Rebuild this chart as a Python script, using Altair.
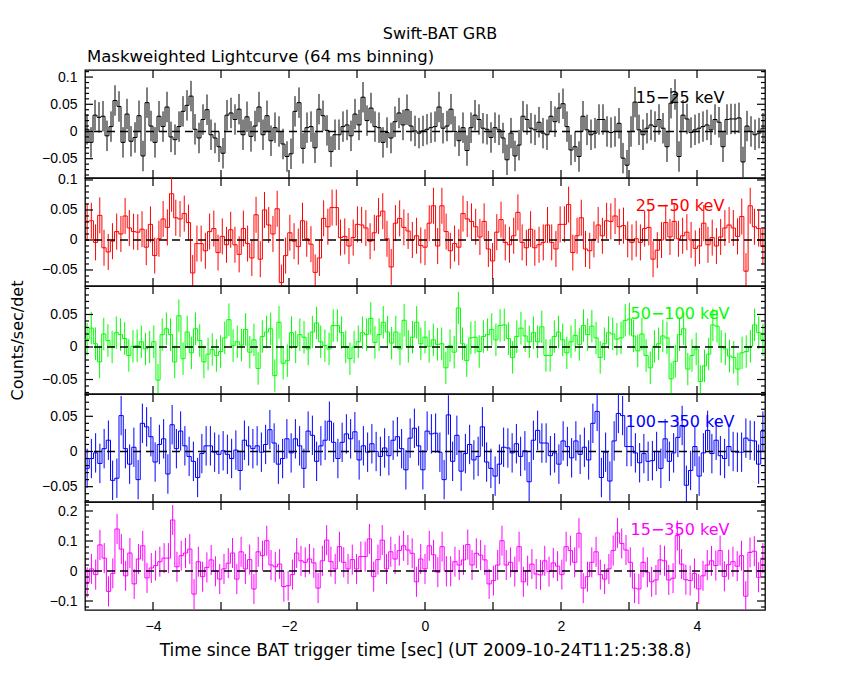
import altair as alt
import numpy as np
import pandas as pd

FONT = "Liberation Sans"
TFONT = "DejaVu Sans"
W, H = 680, 108

band_labels = ["15−25 keV", "25−50 keV", "50−100 keV", "100−350 keV", "15−350 keV"]
band_colors = ["#000000", "#ff0000", "#00ff00", "#0000ff", "#ff00ff"]

# Mask-weighted rates (counts/sec/det), 64 ms bins from -5 s to +5 s
rate_15_25 = [
    0.004, -0.02, 0.03, 0.026, 0.028, -0.008, 0.009, 0.057, 0.046, -0.02,
    0.032, -0.018, -0.011, 0.029, -0.045, 0.053, 0.01, -0.02, 0.028, 0.009,
    0.045, -0.01, -0.015, 0.009, 0.037, 0.048, 0.065, 0.004, -0.012, 0.022,
    0.04, -0.006, -0.012, -0.028, -0.04, 0.03, 0.034, 0.022, 0.041, -0.006,
    0.027, -0.009, 0.01, 0.045, -0.006, 0.029, -0.017, 0.007, 0.0, -0.023,
    -0.046, -0.041, 0.037, 0.053, -0.031, 0.007, 0.009, -0.03, 0.041, 0.029,
    0.002, -0.037, -0.006, -0.006, 0.009, 0.012, -0.008, 0.032, 0.012, 0.063,
    0.02, 0.043, 0.009, 0.007, -0.02, -0.002,
    -0.012, 0.018, 0.034, 0.012, 0.04, 0.01, 0.001, -0.003,
    0.001, 0.004, 0.007, 0.009, 0.045, 0.006, 0.01, 0.041, 0.0, -0.017,
    0.007, -0.035, 0.007, 0.03, 0.022, 0.006, 0.004, -0.011, 0.007, 0.003,
    -0.012, -0.052, -0.003, -0.045, -0.025, 0.028, 0.022, 0.006, 0.003, 0.017,
    -0.003, -0.006, 0.028, 0.018, 0.043, 0.051, 0.009, -0.034, -0.028, -0.046,
    0.028, 0.003, -0.006, -0.003, 0.022, 0.022, 0.0, -0.002, 0.0, 0.015,
    -0.049, -0.062, 0.0, 0.054, 0.003, -0.006, 0.006, 0.012, 0.009, 0.022,
    0.006, -0.028, 0.052, 0.068, -0.046, 0.03, 0.023, -0.002, 0.003, 0.006,
    0.009, 0.012, 0.003, 0.022, 0.017, -0.028, 0.022, 0.023, 0.023, 0.025,
    -0.056, 0.01, 0.0, -0.006, -0.003, 0.006,
]
rate_25_50 = [
    0.031, 0.032, -0.004, 0.041, -0.013, -0.02, -0.002, 0.014, 0.01, 0.04,
    0.02, 0.014, 0.013, 0.018, -0.012, 0.026, -0.026, 0.002, 0.035, 0.021,
    0.077, 0.037, 0.035, 0.044, 0.029, -0.055, -0.006, -0.006, -0.018, 0.014,
    0.019, -0.021, 0.006, -0.008, 0.017, -0.008, -0.024, 0.019, -0.006, -0.03,
    0.042, -0.032, 0.05, 0.025, 0.01, 0.052, -0.071, -0.026, 0.012, -0.002,
    -0.011, 0.032, 0.002, -0.007, -0.054, -0.03, 0.036, 0.022, 0.054, 0.054,
    0.004, 0.006, -0.01, 0.004, 0.026, 0.025, 0.02, -0.002, 0.012, 0.04,
    0.048, 0.002, -0.045, 0.028, 0.036, 0.021, 0.015, 0.0, 0.007, -0.009, -0.012,
    0.028, 0.057, -0.01, 0.057, 0.014, -0.018, -0.006,
    -0.012, 0.044, 0.035, 0.031, 0.022, 0.005, 0.031, -0.015, -0.035, 0.013,
    0.034, -0.004, -0.008, 0.007, 0.046, -0.004, -0.013, 0.018, -0.013, -0.008,
    -0.004, 0.025, -0.004, -0.015, 0.026, 0.026, 0.059, -0.021, 0.007, 0.037,
    -0.015, -0.018, 0.001, 0.025, 0.007, 0.032, 0.031, 0.04, 0.022, 0.024,
    0.001, -0.004, 0.002, -0.004, 0.019, 0.021, -0.032, -0.017, 0.0, 0.029,
    0.005, 0.031, 0.002, 0.007, 0.013, 0.0, -0.014, -0.01, 0.028, -0.008,
    0.004, -0.01, 0.005, 0.02, 0.025, 0.02, 0.006, 0.039, -0.052, 0.057,
    0.022, 0.019, -0.011,
]
rate_50_100 = [
    0.012, 0.029, 0.005, -0.023, 0.02, 0.01, 0.0, 0.022, 0.019, 0.013,
    -0.013, 0.001, 0.002, 0.008, -0.003, 0.0, 0.008, -0.051, 0.019, 0.028,
    0.019, -0.023, 0.048, -0.018, 0.023, -0.009, 0.028, 0.01, -0.023, -0.011,
    -0.004, -0.013, -0.007, 0.014, 0.042, 0.002, 0.008, 0.003, 0.027, -0.008,
    0.011, -0.033, 0.016, 0.023, 0.028, -0.044, 0.038, -0.025, -0.021, 0.022,
    0.0, 0.019, 0.015, -0.003, 0.023, 0.037, 0.008, 0.002, -0.003, 0.033,
    0.033, 0.022, 0.0, -0.018, 0.0, 0.008, 0.022, 0.019, 0.044, 0.007,
    0.019, 0.038, 0.023, 0.006, 0.023, -0.003, 0.041, 0.001, 0.015, 0.038,
    0.005, 0.015,
    0.001, 0.011, 0.004, 0.005, -0.032, 0.002, -0.008, 0.06,
    0.005, -0.021, 0.014, 0.015, -0.007, 0.016, 0.019, 0.027, 0.011, 0.033,
    0.034, 0.013, -0.016, 0.016, 0.029, 0.017, 0.008, 0.022, 0.008, 0.031,
    -0.013, -0.013, 0.016, 0.023, 0.011, -0.009, 0.008, 0.018, 0.004, 0.033,
    0.019, 0.032, 0.014, -0.016, 0.005, 0.022, 0.02, 0.012, 0.014, 0.041,
    0.043, 0.017, -0.006, 0.02, -0.013, -0.032, 0.001, 0.005, 0.017, 0.014,
    -0.049, -0.022, 0.019, 0.028, -0.034, -0.013, -0.003, -0.053, -0.029, -0.011,
    0.034, 0.032, 0.001, -0.003, -0.014, -0.016, -0.034, -0.009, -0.007, 0.001,
    0.034, 0.022, 0.011,
]
rate_100_350 = [
    -0.024, -0.01, -0.002, -0.017, 0.004, 0.016, -0.041, -0.038, 0.051, 0.004,
    -0.018, 0.006, -0.04, 0.04, 0.035, 0.021, -0.015, 0.01, 0.018, -0.032,
    0.038, 0.004, 0.029, 0.008, -0.007, -0.014, -0.037, -0.003, 0.008, 0.008,
    -0.001, -0.004, 0.001, -0.004, -0.01, 0.002, -0.027, 0.016, 0.008, 0.004,
    0.008, -0.001, 0.01, 0.031, 0.012, -0.018, -0.01, 0.018, -0.002, 0.018,
    0.008, -0.024, 0.029, 0.023, -0.014, 0.008, 0.016, 0.043, 0.013, -0.01,
    0.013, 0.025, 0.018, 0.028, -0.012, 0.008, -0.001, 0.011, 0.0, -0.007,
    0.005, -0.006, 0.016, 0.021, 0.004, -0.026, 0.019, 0.033, 0.008, -0.026,
    0.029,
    0.025, 0.026, -0.001, -0.04, 0.052, -0.014, 0.023, -0.028,
    -0.003, 0.01, -0.012, -0.007, 0.035, -0.015, -0.024, -0.035, -0.018, 0.006,
    0.005, -0.002, 0.011, -0.007, 0.001, -0.043, 0.016, 0.03, 0.012, 0.012,
    -0.006, -0.002, -0.018, 0.015, 0.007, -0.009, 0.015, -0.004, 0.006, -0.012,
    0.04, 0.057, -0.037, -0.001, -0.042, 0.015, 0.054, 0.051, 0.007, 0.007,
    -0.002, -0.016, -0.003, -0.014, -0.013, 0.0, -0.024, 0.018, -0.014, -0.002,
    0.02, 0.037, -0.048, -0.027, 0.007, -0.035, -0.002, 0.03, -0.003, 0.016,
    -0.006, -0.01, 0.007, 0.0, -0.001, -0.001, 0.019, 0.016, 0.015, -0.018,
    0.029,
]
rate_15_350 = [
    -0.038, 0.007, -0.012, 0.087, 0.043, -0.068, -0.008, 0.14, 0.073, -0.016,
    0.06, -0.043, 0.04, 0.084, -0.023, 0.01, 0.018, 0.031, 0.043, 0.043,
    0.17, 0.014, 0.051, 0.06, 0.073, -0.077, 0.031, -0.019, 0.012, 0.037,
    -0.001, -0.027, 0.007, 0.026, 0.06, -0.027, 0.064, 0.007, 0.038, -0.06,
    0.064, 0.051, 0.101, 0.02, 0.014, 0.023, -0.052, -0.049, -0.012, 0.06,
    0.034, 0.029, 0.04, 0.027, -0.057, 0.034, 0.103, 0.031, 0.007, 0.081,
    0.029, 0.007, 0.038, 0.007, 0.048, 0.048, 0.107, -0.019, 0.038, 0.103,
    0.007, 0.064, 0.04, 0.068, 0.084, 0.07, 0.059, -0.036, 0.04, 0.007,
    0.084, 0.054, -0.004, 0.081, -0.001, -0.001, 0.031, 0.02, 0.037,
    0.088, 0.02, 0.059, 0.053, 0.037, -0.043, -0.032, 0.02, 0.101, 0.02,
    0.029, -0.002, 0.081, -0.036, 0.001, 0.023, -0.01, -0.013, 0.034, -0.002,
    0.027, 0.016, -0.012, 0.081, 0.068, 0.029, 0.126, -0.057, -0.019, 0.029,
    0.064, -0.012, -0.027, 0.007, 0.068, 0.127, 0.092, 0.07, 0.029, -0.057,
    -0.06, 0.029, -0.004, -0.036, -0.03, 0.037, 0.034, -0.03, -0.024, 0.118,
    0.023, -0.029, -0.032, -0.008, -0.06, -0.016, 0.02, 0.034, 0.018, 0.068,
    -0.018, 0.021, 0.031, 0.016, 0.051, -0.084, 0.062, 0.066, -0.021, 0.043,
]
rates = [rate_15_25, rate_25_50, rate_50_100, rate_100_350, rate_15_350]
errors = [0.028, 0.03, 0.025, 0.028, 0.05]

y_domains = [[-0.0855, 0.113], [-0.0767, 0.1033], [-0.0723, 0.0938],
             [-0.0718, 0.0817], [-0.13, 0.23]]
y_major = [[-0.05, 0, 0.05, 0.1], [-0.05, 0, 0.05, 0.1], [-0.05, 0, 0.05],
           [-0.05, 0, 0.05], [-0.1, 0, 0.1, 0.2]]
y_minor_step = [0.01, 0.01, 0.01, 0.01, 0.02]
x_ticks = [-4, -3, -2, -1, 0, 1, 2, 3, 4]
x_labels = [-4, -2, 0, 2, 4]

TITLE = "Swift-BAT GRB"
SUBTITLE = "Maskweighted Lightcurve (64 ms binning)"
X_TITLE = "Time since BAT trigger time [sec] (UT 2009-10-24T11:25:38.8)"
Y_TITLE = "Counts/sec/det"


def panel(i):
    vals = np.array(rates[i], dtype=float)
    n = len(vals)
    w = 10.0 / n
    edges = -5.0 + w * np.arange(n + 1)
    step_df = pd.DataFrame({"t": edges, "rate": list(vals) + [vals[-1]]})
    err_df = pd.DataFrame({"t": edges[:-1] + w / 2,
                           "rate": vals - errors[i], "hi": vals + errors[i]})
    c = band_colors[i]
    xs = alt.Scale(domain=[-5, 5], nice=False, zero=False)
    ys = alt.Scale(domain=y_domains[i], nice=False, zero=False)

    ykw = dict(values=y_major[i], ticks=False, domain=False, grid=False,
               labelPadding=8, format="~g", labelFontSize=14, labelFont=FONT,
               labelColor="black")
    if i == 2:
        ykw.update(title=Y_TITLE, titleFontSize=16, titleFont=TFONT,
                   titleFontWeight="normal", titlePadding=16, titleColor="black")
    else:
        ykw.update(title="")
    yaxis = alt.Axis(**ykw)
    if i == 4:
        xaxis = alt.Axis(values=x_labels, ticks=False, domain=False, grid=False,
                         labelPadding=9, format="~g", labelFontSize=14,
                         labelFont=FONT, labelColor="black", title=X_TITLE,
                         titleFontSize=17, titleFont=TFONT, titleFontWeight="normal",
                         titlePadding=9, titleColor="black")
    else:
        xaxis = None

    def X(f="t:Q"):
        return alt.X(f, scale=xs, axis=xaxis)

    def Y(f="rate:Q"):
        return alt.Y(f, scale=ys, axis=yaxis)

    line = alt.Chart(step_df).mark_line(
        interpolate="step-after", color=c, strokeWidth=1.0, clip=True
    ).encode(x=X(), y=Y())
    err = alt.Chart(err_df).mark_rule(color=c, strokeWidth=1.0, clip=True).encode(
        x=X(), y=Y(), y2="hi:Q")
    zero = alt.Chart(pd.DataFrame({"rate": [0.0]})).mark_rule(
        color="black", strokeWidth=1.3, strokeDash=[8, 5]
    ).encode(y=Y())

    xt = pd.DataFrame({"t": x_ticks})
    xt_bot = alt.Chart(xt).mark_rule(color="black", strokeWidth=1.2).encode(
        x=X(), y=alt.value(H), y2=alt.value(H - 8))
    xt_top = alt.Chart(xt).mark_rule(color="black", strokeWidth=1.2).encode(
        x=X(), y=alt.value(0), y2=alt.value(8))

    lo, hi = y_domains[i]
    st = y_minor_step[i]
    minor = [round(v, 4) for v in np.arange(np.ceil(lo / st) * st, hi, st)]
    minor = [v for v in minor if all(abs(v - m) > 1e-9 for m in y_major[i])]
    ymaj = pd.DataFrame({"rate": y_major[i]})
    ymin = pd.DataFrame({"rate": minor})
    yt = []
    for df, L in ((ymaj, 8), (ymin, 4)):
        yt.append(alt.Chart(df).mark_rule(color="black", strokeWidth=1.2).encode(
            y=Y(), x=alt.value(0), x2=alt.value(L)))
        yt.append(alt.Chart(df).mark_rule(color="black", strokeWidth=1.2).encode(
            y=Y(), x=alt.value(W), x2=alt.value(W - L)))

    label = alt.Chart(pd.DataFrame({"label": [band_labels[i]]})).mark_text(
        color=c, fontSize=16, font=TFONT, align="center", baseline="middle"
    ).encode(x=alt.value(595), y=alt.value(28), text="label:N")

    layers = [err, line, zero, xt_bot, xt_top] + yt + [label]
    if i == 0:
        tdf = pd.DataFrame({"title": [TITLE], "sub": [SUBTITLE]})
        layers.append(alt.Chart(tdf).mark_text(
            fontSize=16, font=TFONT, align="center", baseline="middle", color="black"
        ).encode(x=alt.value(355), y=alt.value(-36), text="title:N"))
        layers.append(alt.Chart(tdf).mark_text(
            fontSize=16.5, font=TFONT, align="left", baseline="middle", color="black"
        ).encode(x=alt.value(2), y=alt.value(-13), text="sub:N"))
    return alt.layer(*layers).properties(width=W, height=H)


chart = alt.vconcat(*[panel(i) for i in range(5)], spacing=0, bounds="flush").properties(
    padding={"left": 0, "top": 17, "right": 5, "bottom": 5},
    background="white",
).configure_view(stroke="black", strokeWidth=1.3)

chart.save("out.html", embed_options={"renderer": "svg", "actions": False})
